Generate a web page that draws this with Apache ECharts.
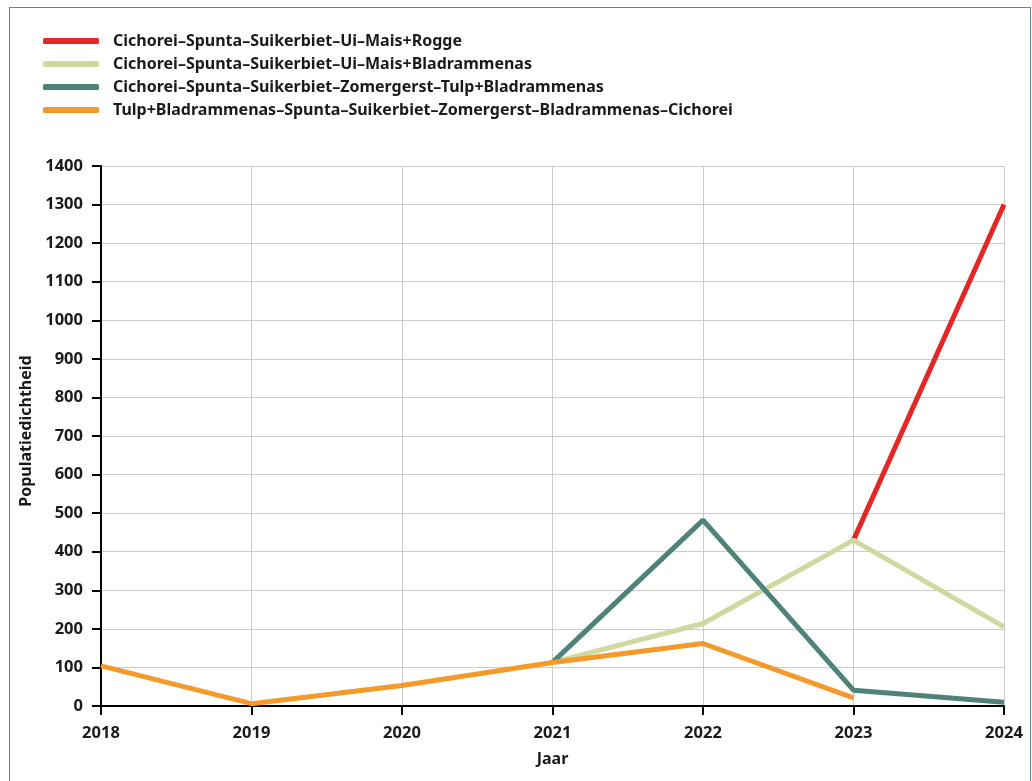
<!DOCTYPE html>
<html>
<head>
<meta charset="utf-8">
<script src="https://cdn.jsdelivr.net/npm/echarts@6/dist/echarts.min.js"></script>
<style>
  html, body { margin: 0; padding: 0; background: #fff; }
  #frame { position: absolute; left: 9px; top: 7px; width: 1022px; height: 800px; border: 1px solid #5b8b85; box-sizing: border-box; }
  #chart { position: absolute; left: 0; top: 0; width: 1032px; height: 781px; }
</style>
</head>
<body>
<div id="frame"></div>
<div id="chart"></div>
<script>
// jaren op de x-as
const years = ["2018", "2019", "2020", "2021", "2022", "2023", "2024"];

// populatiedichtheid per rotatie
const seriesNames = [
  "Cichorei–Spunta–Suikerbiet–Ui–Mais+Rogge",
  "Cichorei–Spunta–Suikerbiet–Ui–Mais+Bladrammenas",
  "Cichorei–Spunta–Suikerbiet–Zomergerst–Tulp+Bladrammenas",
  "Tulp+Bladrammenas–Spunta–Suikerbiet–Zomergerst–Bladrammenas–Cichorei"
];
const rogge = [null, null, null, null, null, 430, 1300];
const maisBlad = [null, null, null, 113, 214, 430, 205];
const tulpBlad = [null, null, null, 113, 482, 41, 10];
const cichorei = [104, 6, 53, 113, 162, 21, null];

const colors = ["#e32726", "#cfd8a0", "#4f8379", "#f39a2b"];
const font = "Noto Sans";

const chart = echarts.init(document.getElementById("chart"));

const mkLine = (name, data, color) => ({
  name: name,
  type: "line",
  data: data,
  showSymbol: false,
  connectNulls: false,
  lineStyle: { color: color, width: 5 },
  itemStyle: { color: color }
});

chart.setOption({
  animation: false,
  textStyle: { fontFamily: font },
  legend: {
    orient: "vertical",
    left: 43,
    top: 33,
    padding: 0,
    itemWidth: 56,
    itemHeight: 6,
    itemGap: 7,
    icon: "roundRect",
    textStyle: { fontFamily: font, fontSize: 16, fontWeight: "bold", color: "#1a1a1a", lineHeight: 16, padding: [0, 0, 0, 9] },
    data: seriesNames
  },
  grid: { left: 101, right: 28, top: 166, bottom: 75, containLabel: false },
  xAxis: {
    type: "category",
    data: years,
    boundaryGap: false,
    name: "Jaar",
    nameLocation: "middle",
    nameGap: 45,
    nameTextStyle: { fontFamily: font, fontSize: 16, fontWeight: "bold", color: "#1a1a1a" },
    axisLine: { lineStyle: { color: "#000", width: 2 } },
    axisTick: { show: true, length: 9, lineStyle: { color: "#000", width: 2 } },
    axisLabel: { fontFamily: font, fontSize: 16.5, fontWeight: "bold", color: "#1a1a1a", margin: 19 },
    splitLine: { show: true, lineStyle: { color: "#cccccc", width: 1 } }
  },
  yAxis: {
    type: "value",
    min: 0,
    max: 1400,
    interval: 100,
    name: "Populatiedichtheid",
    nameLocation: "middle",
    nameGap: 63,
    nameRotate: 90,
    nameTextStyle: { fontFamily: font, fontSize: 16, fontWeight: "bold", color: "#1a1a1a", padding: [0, 0, 0, 10] },
    axisLine: { show: true, lineStyle: { color: "#000", width: 2 } },
    axisTick: { show: true, length: 9, lineStyle: { color: "#000", width: 2 } },
    axisLabel: { fontFamily: font, fontSize: 16.5, fontWeight: "bold", color: "#1a1a1a", margin: 18, formatter: (v) => String(v) },
    splitLine: { show: true, lineStyle: { color: "#cccccc", width: 1 } }
  },
  series: [
    mkLine(seriesNames[0], rogge, colors[0]),
    mkLine(seriesNames[1], maisBlad, colors[1]),
    mkLine(seriesNames[2], tulpBlad, colors[2]),
    mkLine(seriesNames[3], cichorei, colors[3])
  ]
});
</script>
</body>
</html>
